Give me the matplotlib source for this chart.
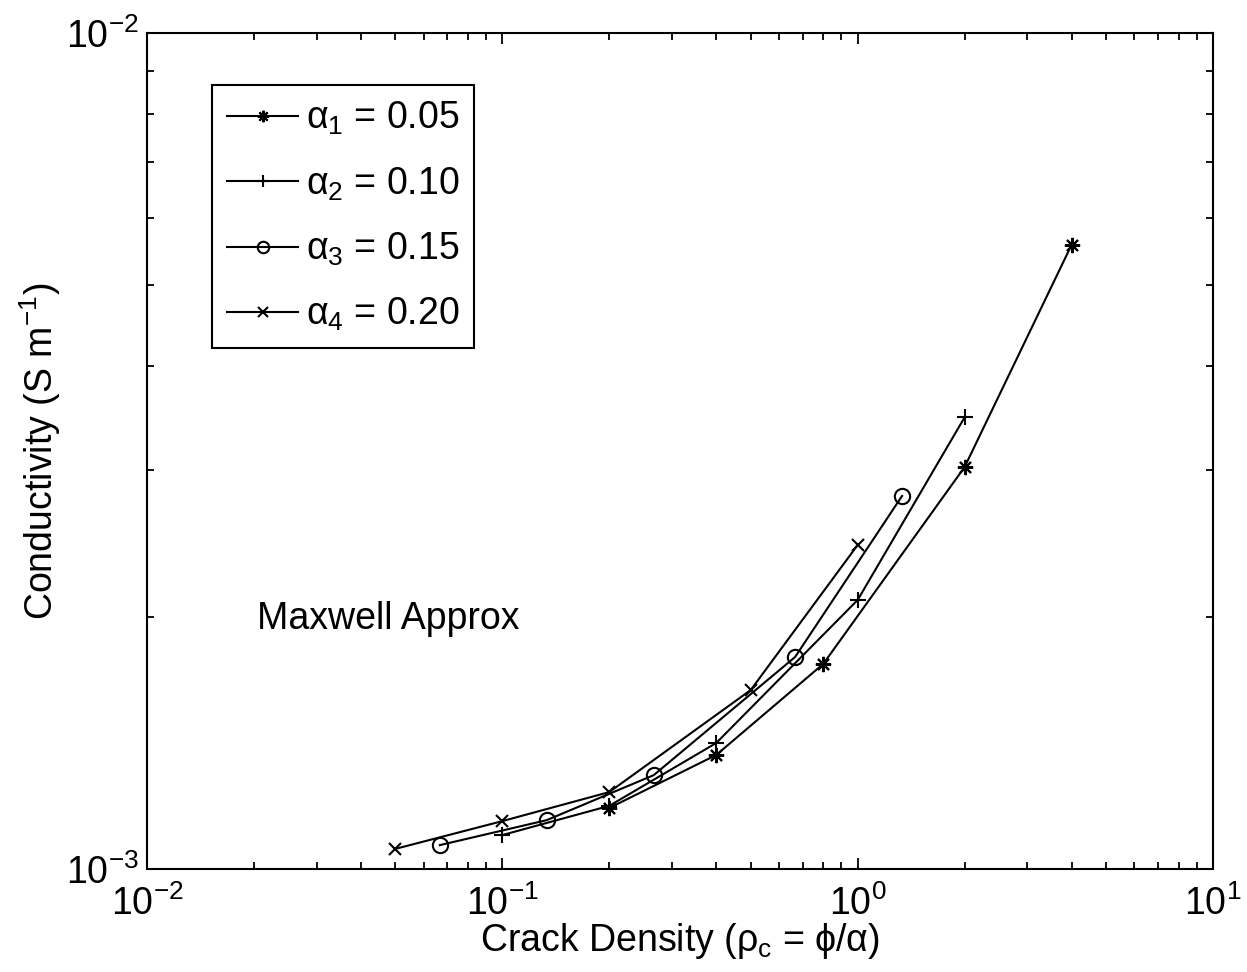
import matplotlib.pyplot as plt
from matplotlib.ticker import NullFormatter

plt.rcParams['font.family'] = ['Liberation Sans', 'DejaVu Sans']
plt.rcParams['mathtext.fontset'] = 'custom'
plt.rcParams['mathtext.rm'] = 'Liberation Sans'
plt.rcParams['mathtext.it'] = 'Liberation Sans'
plt.rcParams['mathtext.bf'] = 'Liberation Sans:bold'

# crack density (phi/alpha) and conductivity for each aspect ratio
rho_1 = [0.2, 0.4, 0.8, 2.0, 4.0]
sigma_1 = [1.183e-3, 1.369e-3, 1.759e-3, 3.026e-3, 5.58e-3]

rho_2 = [0.1, 0.2, 0.4, 1.0, 2.0]
sigma_2 = [1.098e-3, 1.19e-3, 1.415e-3, 2.098e-3, 3.47e-3]

rho_3 = [0.0667, 0.1333, 0.2667, 0.6667, 1.3333]
sigma_3 = [1.068e-3, 1.144e-3, 1.295e-3, 1.793e-3, 2.794e-3]

rho_4 = [0.05, 0.1, 0.2, 0.5, 1.0]
sigma_4 = [1.057e-3, 1.141e-3, 1.236e-3, 1.637e-3, 2.441e-3]

labels = [r'$\alpha_1$ = 0.05', r'$\alpha_2$ = 0.10',
          r'$\alpha_3$ = 0.15', r'$\alpha_4$ = 0.20']

fs = 27
fig = plt.figure(figsize=(12.47, 9.72), dpi=100)
ax = fig.add_axes([147 / 1247, 1 - 869 / 972, 1066 / 1247, 836 / 972])

ax.plot(rho_1, sigma_1, 'k-', marker=(8, 2, 0), ms=11, lw=1.5, mew=1.5, label=labels[0])
ax.plot(rho_2, sigma_2, 'k-', marker='+', ms=12, lw=1.5, mew=1.5, label=labels[1])
ax.plot(rho_3, sigma_3, 'k-', marker='o', ms=11, mfc='none', lw=1.5, mew=1.5, label=labels[2])
ax.plot(rho_4, sigma_4, 'k-', marker='x', ms=9, lw=1.5, mew=1.5, label=labels[3])

ax.set_xscale('log')
ax.set_yscale('log')
ax.set_xlim(1e-2, 1e1)
ax.set_ylim(1e-3, 1e-2)
ax.xaxis.set_minor_formatter(NullFormatter())
ax.yaxis.set_minor_formatter(NullFormatter())

ax.tick_params(which='both', direction='in', top=True, right=True, labelsize=fs, width=1.3)
ax.tick_params(which='major', length=8)
ax.tick_params(which='minor', length=5)
ax.tick_params(axis='x', pad=12)
ax.tick_params(axis='y', pad=6)
for s in ax.spines.values():
    s.set_linewidth(1.5)

ax.text(0.0204, 1.99e-3, 'Maxwell Approx', fontsize=fs, va='center', ha='left')

ax.set_xlabel(r'Crack Density ($\rho_c$ = $\phi$/$\alpha$)', fontsize=fs)
ax.xaxis.set_label_coords(0.5, -0.062)
ax.xaxis.label.set_va('top')
ax.set_ylabel(r'Conductivity (S m$^{-1}$)', fontsize=fs, labelpad=2)

leg = ax.legend(loc='upper left', bbox_to_anchor=(0.061, 0.938), fontsize=fs,
                fancybox=False, edgecolor='k', framealpha=1, markerscale=0.75,
                handlelength=1.9, handletextpad=0.2, labelspacing=0.75,
                borderpad=0.4, borderaxespad=0)
leg.get_frame().set_linewidth(1.5)

fig.savefig('out.png', dpi=100)
